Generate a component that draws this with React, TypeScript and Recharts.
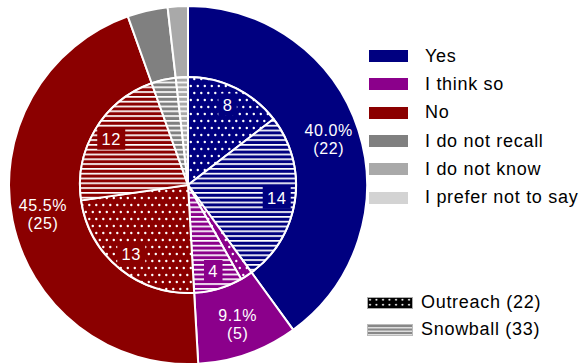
import { PieChart, Pie, Cell } from "recharts";

const answers = ["Yes", "I think so", "No", "I do not recall", "I do not know", "I prefer not to say"];
const answerColors = ["#000080", "#8b008b", "#8b0000", "#808080", "#a9a9a9", "#d3d3d3"];
const outreachCounts = [8, 1, 13, 0, 0, 0];
const snowballCounts = [14, 4, 12, 2, 1, 0];
const groups = ["Outreach", "Snowball"];

const totals = answers.map((_, i) => outreachCounts[i] + snowballCounts[i]);
const grandTotal = totals.reduce((a, b) => a + b, 0);
const groupTotals = [outreachCounts, snowballCounts].map((arr) => arr.reduce((a, b) => a + b, 0));

const outerData = answers
    .map((name, i) => ({ name, value: totals[i], ci: i }))
    .filter((d) => d.value > 0);

const innerData = answers.flatMap((name, i) =>
    [
        { name: `${name} ${groups[0]}`, value: outreachCounts[i], ci: i, kind: "dots" },
        { name: `${name} ${groups[1]}`, value: snowballCounts[i], ci: i, kind: "lines" },
    ].filter((d) => d.value > 0)
);

const RAD = Math.PI / 180;
const FONT = "'Liberation Sans', Arial, sans-serif";

const renderOuterLabel = (props: any) => {
    const { cx, cy, midAngle, value } = props;
    if (value < 5) return null;
    const r = 148;
    const x = cx + r * Math.cos(-midAngle * RAD);
    const y = cy + r * Math.sin(-midAngle * RAD);
    const pct = ((value / grandTotal) * 100).toFixed(1) + "%";
    return (
        <text x={x} y={y} fill="#fff" textAnchor="middle" fontFamily={FONT} fontSize={16} letterSpacing={0.6}>
            <tspan x={x} dy={-3.5}>{pct}</tspan>
            <tspan x={x} dy={18.5}>({value})</tspan>
        </text>
    );
};

const renderInnerLabel = (props: any) => {
    const { cx, cy, midAngle, outerRadius, value } = props;
    if (value < 4) return null;
    const ci = props.payload?.ci ?? props.ci;
    const r = outerRadius * 0.83;
    const x = cx + r * Math.cos(-midAngle * RAD);
    const y = cy + r * Math.sin(-midAngle * RAD);
    const w = String(value).length * 9.5 + 9;
    return (
        <g>
            <rect x={x - w / 2} y={y - 11} width={w} height={22} fill={answerColors[ci]} />
            <text x={x} y={y + 6} fill="#fff" textAnchor="middle" fontFamily={FONT} fontSize={16.5} letterSpacing={0.6}>
                {value}
            </text>
        </g>
    );
};

export default function App() {
    return (
        <div style={{ position: "absolute", left: 0, top: 0, width: 580, height: 364, overflow: "hidden", background: "#fff" }}>
            <PieChart width={580} height={364} margin={{ top: 0, right: 0, bottom: 0, left: 0 }}>
                <defs>
                    {answerColors.map((c, i) => (
                        <pattern key={"d" + i} id={`dots-${i}`} patternUnits="userSpaceOnUse" width={7} height={14}>
                            <rect width={7} height={14} fill={c} />
                            <circle cx={1.8} cy={2} r={1.2} fill="#fff" />
                            <circle cx={5.3} cy={9} r={1.2} fill="#fff" />
                        </pattern>
                    ))}
                    {answerColors.map((c, i) => (
                        <pattern key={"l" + i} id={`lines-${i}`} patternUnits="userSpaceOnUse" width={10} height={4.8}>
                            <rect width={10} height={4.8} fill={c} />
                            <rect y={0} width={10} height={1.7} fill="#fff" />
                        </pattern>
                    ))}
                    <pattern id="legend-dots" patternUnits="userSpaceOnUse" width={6.5} height={5}>
                        <rect width={6.5} height={5} fill="#000" />
                        <circle cx={3} cy={2.8} r={1} fill="#fff" />
                    </pattern>
                </defs>
                <Pie
                    data={outerData}
                    dataKey="value"
                    nameKey="name"
                    cx={188}
                    cy={185}
                    innerRadius={108}
                    outerRadius={179}
                    startAngle={90}
                    endAngle={-270}
                    stroke="#fff"
                    strokeWidth={2}
                    label={renderOuterLabel}
                    labelLine={false}
                    isAnimationActive={false}
                >
                    {outerData.map((d, i) => (
                        <Cell key={i} fill={answerColors[d.ci]} />
                    ))}
                </Pie>
                <Pie
                    data={innerData}
                    dataKey="value"
                    nameKey="name"
                    cx={188}
                    cy={185}
                    innerRadius={0}
                    outerRadius={108}
                    startAngle={90}
                    endAngle={-270}
                    stroke="#fff"
                    strokeWidth={2}
                    label={renderInnerLabel}
                    labelLine={false}
                    isAnimationActive={false}
                >
                    {innerData.map((d, i) => (
                        <Cell key={i} fill={`url(#${d.kind}-${d.ci})`} />
                    ))}
                </Pie>
            </PieChart>

            <div style={{ position: "absolute", left: 369, top: 42, fontFamily: FONT, fontSize: 18, letterSpacing: 0.7, color: "#000" }}>
                {answers.map((a, i) => (
                    <div key={a} style={{ display: "flex", alignItems: "center", height: 28.3 }}>
                        <div style={{ width: 39, height: 12, background: answerColors[i], marginRight: 17 }} />
                        <span style={{ whiteSpace: "nowrap" }}>{a}</span>
                    </div>
                ))}
            </div>

            <div style={{ position: "absolute", left: 367, top: 289, fontFamily: FONT, fontSize: 18, letterSpacing: 0.7, color: "#000" }}>
                {groups.map((g, i) => (
                    <div key={g} style={{ display: "flex", alignItems: "center", height: 27 }}>
                        <svg width={46} height={12} style={{ marginRight: 8, flexShrink: 0 }}>
                            {i === 0 ? (
                                <rect x={0.5} y={0.5} width={45} height={11} fill="url(#legend-dots)" stroke="#aaa" />
                            ) : (
                                <g>
                                    <rect x={0.5} y={0.5} width={45} height={11} fill="#888" stroke="#bbb" />
                                    <rect x={1} y={3} width={44} height={1.5} fill="#ddd" />
                                    <rect x={1} y={6.5} width={44} height={1.5} fill="#ddd" />
                                    <rect x={1} y={10} width={44} height={1} fill="#ddd" />
                                </g>
                            )}
                        </svg>
                        <span style={{ whiteSpace: "nowrap" }}>
                            {g} ({groupTotals[i]})
                        </span>
                    </div>
                ))}
            </div>
        </div>
    );
}
